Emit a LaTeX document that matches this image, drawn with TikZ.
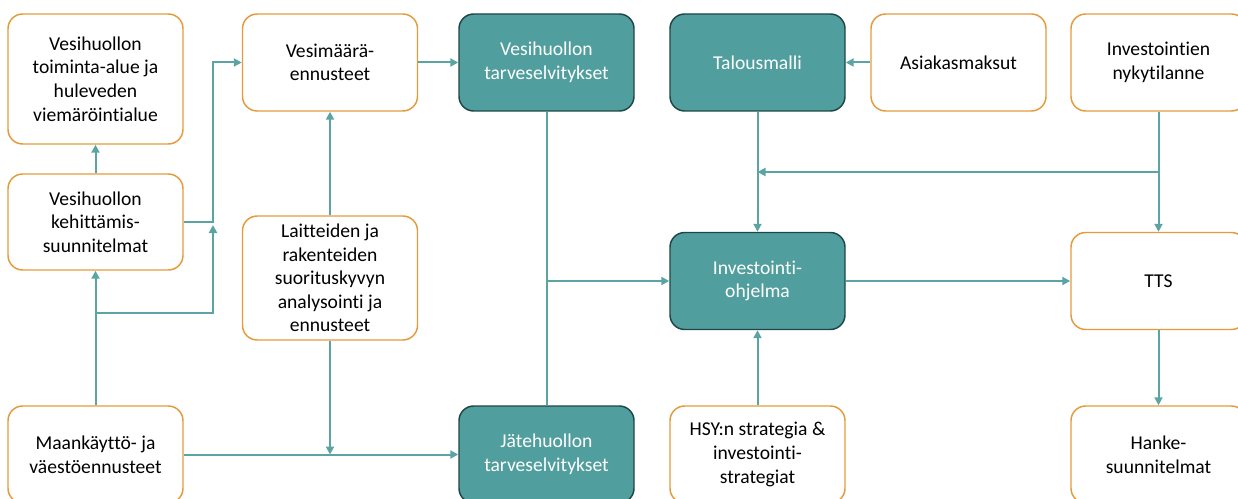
\documentclass[tikz,border=0pt]{standalone}
\usepackage{fontspec}
\setmainfont{Carlito}[Ligatures=NoCommon]
\usetikzlibrary{arrows.meta}
\definecolor{hsyteal}{HTML}{519E9E}
\definecolor{hsydark}{HTML}{1F4747}
\definecolor{hsyorange}{HTML}{E59B3C}
\definecolor{hsyline}{HTML}{5AA4A4}
\tikzset{
  box/.style={draw=hsyorange, line width=1.1pt, rounded corners=11pt, fill=white,
    align=center, minimum width=131.25pt, minimum height=72.75pt, inner sep=0pt,
    font=\fontsize{14.7}{17.7}\selectfont},
  tealbox/.style={box, draw=hsydark, fill=hsyteal, text=white},
  flow/.style={draw=hsyline, line width=1.5pt, -{Triangle[length=6pt,width=6pt]}},
  link/.style={draw=hsyline, line width=1.5pt}
}
\begin{document}
\begin{tikzpicture}[x=0.75pt, y=-0.75pt]
            \useasboundingbox (0,0) rectangle (1238,499);
            % left column
            \node[box, minimum height=97.5pt] (alue) at (95.5,79) {Vesihuollon\\toiminta-alue ja\\huleveden\\viemäröintialue};
            \node[box, minimum height=72pt] (kehitys) at (95.5,222) {Vesihuollon\\kehittämis-\\suunnitelmat};
            \node[box] (maank) at (95.5,454.5) {Maankäyttö- ja\\väestöennusteet};
            % second column
            \node[box] (vesimaara) at (330,62.5) {Vesimäärä-\\ennusteet};
            \node[box, minimum height=93pt] (laitteet) at (330,278) {Laitteiden ja\\rakenteiden\\suorituskyvyn\\analysointi ja\\ennusteet};
            % needs studies
            \node[tealbox] (vesitarve) at (546.5,62.5) {Vesihuollon\\tarveselvitykset};
            \node[tealbox] (jatetarve) at (546.5,454.5) {Jätehuollon\\tarveselvitykset};
            % right part
            \node[tealbox] (talous) at (757.5,62.5) {Talousmalli};
            \node[box] (asiakas) at (958.5,62.5) {Asiakasmaksut};
            \node[box] (nyky) at (1158.5,62.5) {Investointien\\nykytilanne};
            \node[tealbox] (ohjelma) at (757.5,281) {Investointi-\\ohjelma};
            \node[box] (tts) at (1158.5,281) {TTS};
            \node[box] (strategia) at (757.5,454.5) {HSY:n strategia \&\\investointi-\\strategiat};
            \node[box] (hanke) at (1158.5,454.5) {Hanke-\\suunnitelmat};
            % junctions
            \coordinate (kj) at (213,222);
            \coordinate (kjb) at (213,225);
            \coordinate (mj) at (95.5,313);
            \coordinate (lj) at (330,454.5);
            \coordinate (vj) at (546.5,281);
            \coordinate (nj) at (1158.5,172);
            \coordinate (tj) at (757.5,172);
            % connectors
            \draw[flow] (kehitys) -- (alue);
            \draw[flow] (maank) -- (kehitys);
            \draw[flow] (mj) -| (kjb);
            \draw[flow] (kehitys.east) -- (kj) |- (vesimaara.west);
            \draw[flow] (laitteet) -- (vesimaara);
            \draw[flow] (laitteet.south) -- (lj);
            \draw[flow] (maank.east) -- (jatetarve.west);
            \draw[flow] (vesimaara) -- (vesitarve);
            \draw[link] (vesitarve) -- (jatetarve);
            \draw[flow] (vj) -- (ohjelma.west);
            \draw[flow] (asiakas) -- (talous);
            \draw[flow] (talous) -- (ohjelma);
            \draw[flow] (nyky) -- (tts);
            \draw[flow] (nj) -- (tj);
            \draw[flow] (ohjelma) -- (tts);
            \draw[flow] (strategia) -- (ohjelma);
            \draw[flow] (tts) -- (hanke);
        \end{tikzpicture}
\end{document}
